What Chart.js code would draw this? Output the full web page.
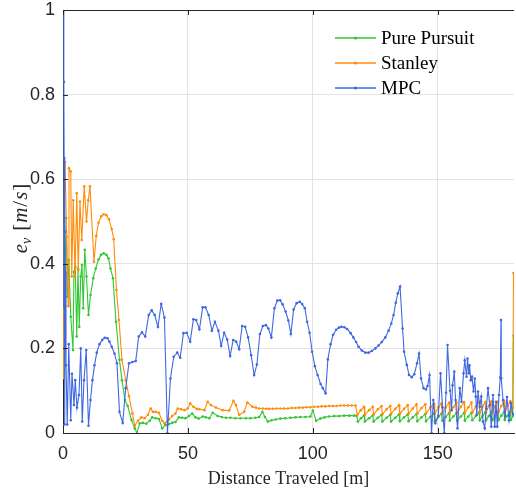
<!DOCTYPE html>
<html>
<head>
<meta charset="utf-8">
<script src="https://cdn.jsdelivr.net/npm/chart.js@4.4.1/dist/chart.umd.min.js"></script>
<style>
  html, body { margin: 0; padding: 0; background: #fff; }
  #wrap { width: 516px; height: 491px; }
</style>
</head>
<body>
<div id="wrap"><canvas id="velErrChart"></canvas></div>
<script>
// Velocity error vs distance for the three controllers
const xTicksStep = 50;
const yTicksStep = 0.2;

const ppDist = [0.2, 0.5, 1.3, 1.7, 2.3, 3.1, 4.0, 4.4, 4.9, 5.5, 6.0, 6.5, 7.1, 7.6, 8.1, 8.7, 9.4, 10.2, 11.0, 12.1,
  13.1, 14.2, 15.2, 16.3, 17.4, 18.2, 19.0, 20.0, 21.2, 22.6, 23.6, 24.8, 25.9, 27.4, 28.7, 29.6, 30.7, 32.0, 33.3, 34.7,
  35.7, 37.1, 38.4, 39.7, 41.0, 42.4, 43.7, 45.0, 46.4, 47.7, 49.0, 50.4, 51.7, 53.0, 54.3, 55.9, 57.2, 58.6, 59.9, 61.9,
  63.5, 65.2, 67.0, 69.0, 71.0, 73.2, 75.0, 77.0, 78.5, 79.8, 80.8, 82.0, 83.5, 85.1, 87.0, 89.0, 91.0, 93.1, 95.0, 97.0,
  99.0, 100.0, 101.3, 103.0, 104.7, 106.4, 108.5, 110.5, 112.5, 114.5, 116.5, 117.5,
  118.0, 119.3, 120.5, 120.8, 122.5, 124.0, 124.3, 126.0, 127.5, 127.8, 129.5, 131.0, 131.3, 133.0, 134.5, 134.8, 136.5, 138.0,
  138.3, 140.0, 141.5, 141.8, 143.5, 145.0, 145.3, 147.0, 148.5, 148.8, 150.2, 151.5, 151.8, 153.2, 154.5, 154.8, 156.2, 157.5,
  157.8, 159.2, 160.5, 160.8, 162.2, 163.5, 163.8, 165.2, 166.5, 166.8, 167.9, 169.0, 169.3, 170.4, 171.5, 171.8, 172.9, 174.0,
  174.3, 175.4, 176.5, 176.8, 177.9, 179.0, 179.3, 180.0, 180.3];
const ppErr = [0.14, 0.30, 0.508, 0.322, 0.409, 0.275, 0.196, 0.381, 0.393, 0.228, 0.389, 0.251, 0.37, 0.397, 0.295, 0.433, 0.37, 0.279, 0.326, 0.366,
  0.389, 0.41, 0.421, 0.425, 0.421, 0.413, 0.389, 0.366, 0.263, 0.173, 0.125, 0.078, 0.064, 0.031, 0.011, 0.0, 0.023, 0.024, 0.022, 0.029,
  0.037, 0.035, 0.033, 0.011, 0.019, 0.021, 0.024, 0.026, 0.037, 0.036, 0.035, 0.04, 0.046, 0.037, 0.034, 0.039, 0.037, 0.035, 0.048, 0.04,
  0.038, 0.036, 0.036, 0.035, 0.035, 0.035, 0.035, 0.036, 0.038, 0.05, 0.038, 0.027, 0.03, 0.032, 0.034, 0.035, 0.036, 0.037, 0.038, 0.038,
  0.039, 0.053, 0.029, 0.034, 0.037, 0.039, 0.04, 0.04, 0.041, 0.041, 0.041, 0.041,
  0.027, 0.035, 0.042, 0.027, 0.035, 0.042, 0.027, 0.036, 0.043, 0.027, 0.036, 0.043, 0.027, 0.036, 0.044, 0.028, 0.037, 0.044,
  0.028, 0.037, 0.045, 0.028, 0.037, 0.045, 0.028, 0.038, 0.046, 0.028, 0.038, 0.046, 0.029, 0.038, 0.047, 0.029, 0.039, 0.047,
  0.029, 0.039, 0.048, 0.029, 0.039, 0.048, 0.03, 0.04, 0.049, 0.03, 0.04, 0.049, 0.03, 0.04, 0.05, 0.03, 0.04, 0.05,
  0.03, 0.041, 0.05, 0.031, 0.041, 0.05, 0.031, 0.04, 0.23];

const stDist = [0.1, 0.3, 0.8, 1.5, 2.1, 2.4, 3.1, 3.5, 4.1, 4.8, 5.5, 6.1, 6.8, 7.5, 8.5, 9.4, 10.1, 10.8, 12.4, 13.3,
  14.2, 15.3, 16.3, 17.4, 18.4, 19.5, 20.3, 21.4, 22.4, 23.6, 25.1, 26.4, 27.8, 28.7, 30.0, 31.4, 32.7, 34.0, 35.1, 36.0,
  37.1, 38.4, 39.7, 40.6, 42.4, 43.7, 45.0, 45.9, 47.3, 48.6, 49.9, 50.9, 52.2, 53.5, 54.6, 56.6, 57.9, 59.2, 61.2, 63.9,
  66.5, 68.2, 69.2, 70.5, 72.5, 73.8, 75.8, 77.2, 78.5, 80.0, 81.3, 82.5, 84.0, 85.5, 87.0, 88.5, 90.0, 91.5, 93.0, 94.5,
  96.0, 97.5, 99.0, 100.5, 102.0, 103.5, 105.0, 106.5, 108.0, 109.5, 111.0, 112.5, 114.0, 115.5, 117.1,
  117.8, 119.2, 120.5, 120.8, 122.5, 124.0, 124.3, 126.0, 127.5, 127.8, 129.5, 131.0, 131.3, 133.0, 134.5, 134.8, 136.5, 138.0,
  138.3, 140.0, 141.5, 141.8, 143.5, 145.0, 145.3, 147.0, 148.5, 148.8, 150.2, 151.5, 151.8, 153.2, 154.5, 154.8, 156.2, 157.5,
  157.8, 159.2, 160.5, 160.8, 162.2, 163.5, 163.8, 165.2, 166.5, 166.8, 167.9, 169.0, 169.3, 170.4, 171.5, 171.8, 172.9, 174.0,
  174.3, 175.4, 176.5, 176.8, 177.9, 179.0, 179.3, 180.0, 180.3];
const stErr = [0.13, 0.47, 0.64, 0.464, 0.30, 0.626, 0.618, 0.37, 0.55, 0.37, 0.567, 0.385, 0.547, 0.456, 0.583, 0.5, 0.55, 0.583, 0.405, 0.466,
  0.497, 0.512, 0.517, 0.515, 0.505, 0.482, 0.458, 0.338, 0.267, 0.173, 0.125, 0.087, 0.046, 0.017, 0.029, 0.037, 0.035, 0.043, 0.058, 0.05,
  0.05, 0.048, 0.029, 0.023, 0.032, 0.04, 0.046, 0.058, 0.056, 0.054, 0.058, 0.07, 0.062, 0.057, 0.056, 0.054, 0.074, 0.066, 0.06, 0.054,
  0.053, 0.076, 0.066, 0.043, 0.05, 0.072, 0.062, 0.06, 0.058, 0.058, 0.0575, 0.0575, 0.0575, 0.058, 0.058, 0.058, 0.058, 0.059, 0.059, 0.06,
  0.06, 0.061, 0.061, 0.062, 0.062, 0.063, 0.063, 0.064, 0.064, 0.064, 0.065, 0.065, 0.065, 0.065, 0.065,
  0.043, 0.054, 0.062, 0.043, 0.054, 0.062, 0.044, 0.056, 0.064, 0.044, 0.056, 0.064, 0.045, 0.057, 0.066, 0.045, 0.057, 0.066,
  0.045, 0.058, 0.068, 0.046, 0.059, 0.068, 0.046, 0.06, 0.07, 0.046, 0.06, 0.07, 0.047, 0.061, 0.072, 0.047, 0.061, 0.072,
  0.047, 0.062, 0.073, 0.047, 0.061, 0.072, 0.048, 0.062, 0.074, 0.048, 0.062, 0.073, 0.048, 0.063, 0.075, 0.048, 0.063, 0.074,
  0.049, 0.064, 0.076, 0.049, 0.064, 0.075, 0.05, 0.06, 0.378];

const mpcDist = [0.2, 0.3, 0.35, 0.45, 0.6, 0.8, 0.95, 1.2, 1.7, 2.3, 3.1, 3.6, 4.4, 4.9, 5.6, 6.4, 7.1, 7.7, 8.4, 9.3,
  10.2, 11.0, 11.8, 12.6, 13.5, 14.6, 15.7, 16.7, 17.8, 18.6, 19.5, 20.6, 21.6, 22.6, 23.9, 25.1, 26.4, 27.8, 29.1, 30.3,
  31.6, 32.9, 34.3, 35.5, 36.7, 38.0, 39.3, 40.6, 41.8, 43.0, 44.3, 45.7, 46.9, 48.2, 49.5, 50.9, 52.2, 53.3, 54.6, 55.9,
  57.0, 58.3, 59.6, 60.8, 62.2, 63.3, 64.5, 65.7, 66.9, 68.1, 69.3, 70.5, 71.7, 72.9, 74.1, 75.3, 76.5, 77.6, 78.8, 80.0,
  81.2, 82.2, 83.4, 84.6, 85.8, 86.9, 87.9, 89.1, 90.2, 91.2, 92.3, 93.5, 94.7, 95.7, 96.8, 97.7, 98.7, 99.7, 100.8, 101.9,
  103.1, 104.0, 105.1, 106.0, 107.1, 108.1, 109.3, 110.4, 111.4, 112.6, 113.7, 115.1, 116.2, 117.3, 118.3, 119.6, 121.0, 122.3, 123.6, 125.0,
  126.3, 127.6, 129.0, 130.3, 131.4, 132.3, 133.2, 134.0, 134.9, 135.9, 136.5, 137.6, 138.5, 139.6, 140.6, 141.7, 142.5, 143.3, 144.3, 145.3,
  145.9, 146.7, 147.5, 148.2, 149.0, 150.2, 151.1, 151.9, 152.6, 153.3, 153.9, 154.9, 155.5, 155.9, 156.6, 157.1, 157.9, 158.8, 159.5, 160.3,
  160.8, 161.5, 161.9, 162.4, 162.7, 163.2, 163.7, 164.3, 164.8, 165.2, 165.6, 166.1, 166.8, 167.4, 168.1, 168.8, 169.4, 170.1, 170.8, 171.4,
  172.1, 172.8, 173.3, 173.8, 174.5, 175.0, 175.3, 175.4, 176.1, 176.9, 177.7, 178.5, 179.3, 180.0];
const mpcErr = [0.3, 1.0, 0.83, 0.65, 0.02, 0.476, 0.38, 0.16, 0.02, 0.21, 0.03, 0.14, 0.066, 0.125, 0.06, 0.09, 0.20, 0.027, 0.125, 0.196,
  0.017, 0.078, 0.125, 0.16, 0.19, 0.21, 0.22, 0.225, 0.224, 0.216, 0.204, 0.188, 0.165, 0.05, 0.024, 0.106, 0.165, 0.168, 0.17, 0.228,
  0.238, 0.228, 0.279, 0.29, 0.279, 0.251, 0.305, 0.273, 0.0, 0.129, 0.18, 0.19, 0.178, 0.236, 0.237, 0.216, 0.269, 0.267, 0.245, 0.297,
  0.297, 0.279, 0.242, 0.263, 0.242, 0.206, 0.237, 0.221, 0.182, 0.22, 0.216, 0.198, 0.253, 0.251, 0.226, 0.184, 0.137, 0.162, 0.234, 0.253,
  0.255, 0.247, 0.226, 0.295, 0.313, 0.314, 0.304, 0.287, 0.266, 0.234, 0.292, 0.307, 0.31, 0.305, 0.295, 0.263, 0.237, 0.192, 0.158, 0.137,
  0.116, 0.106, 0.094, 0.174, 0.21, 0.232, 0.244, 0.249, 0.251, 0.25, 0.246, 0.236, 0.226, 0.215, 0.204, 0.195, 0.19, 0.19, 0.194, 0.2,
  0.207, 0.215, 0.226, 0.242, 0.259, 0.279, 0.308, 0.33, 0.346, 0.247, 0.192, 0.161, 0.137, 0.132, 0.139, 0.165, 0.188, 0.129, 0.106, 0.103,
  0.111, 0.137, 0.0, 0.078, 0.023, 0.04, 0.141, 0.06, 0.0, 0.095, 0.208, 0.10, 0.054, 0.113, 0.145, 0.078, 0.011, 0.106, 0.074, 0.141,
  0.172, 0.133, 0.176, 0.141, 0.16, 0.125, 0.133, 0.098, 0.129, 0.086, 0.043, 0.098, 0.062, 0.086, 0.027, 0.011, 0.058, 0.106, 0.066, 0.015,
  0.09, 0.015, 0.074, 0.015, 0.09, 0.131, 0.267, 0.129, 0.078, 0.04, 0.085, 0.03, 0.07, 0.045];

const seriesNames = ['Pure Pursuit', 'Stanley', 'MPC'];
const seriesColors = ['#33c633', '#ff8c0a', '#3f68e0'];

function toPoints(xs, ys) {
  return xs.map((x, i) => ({ x: x, y: ys[i] }));
}

function lineSet(idx, xs, ys, order) {
  return {
    label: seriesNames[idx],
    data: toPoints(xs, ys),
    showLine: true,
    borderColor: seriesColors[idx],
    backgroundColor: seriesColors[idx],
    borderWidth: 1.1,
    pointRadius: 1.3,
    pointBorderWidth: 0,
    pointHoverRadius: 2,
    order: order
  };
}

const axisColor = '#262626';

// frame, inward tick marks, y title with subscript and legend
const decorPlugin = {
  id: 'decor',
  afterDraw(chart) {
    const ctx = chart.ctx;
    const area = chart.chartArea;
    const xs = chart.scales.x;
    const ys = chart.scales.y;
    ctx.save();
    ctx.strokeStyle = axisColor;
    ctx.lineWidth = 1;
    ctx.beginPath();
    ctx.moveTo(area.left, area.top + 0.5);
    ctx.lineTo(area.right, area.top + 0.5);
    xs.ticks.forEach(t => {
      const px = Math.round(xs.getPixelForValue(t.value)) + 0.5;
      ctx.moveTo(px, area.bottom);
      ctx.lineTo(px, area.bottom - 5);
      ctx.moveTo(px, area.top);
      ctx.lineTo(px, area.top + 5);
    });
    ys.ticks.forEach(t => {
      const py = Math.round(ys.getPixelForValue(t.value)) + 0.5;
      ctx.moveTo(area.left, py);
      ctx.lineTo(area.left + 5, py);
    });
    ctx.stroke();

    // y axis title: e_v [m/s]
    ctx.translate(20, (area.top + area.bottom) / 2 - 3);
    ctx.rotate(-Math.PI / 2);
    const pieces = [
      { t: 'e', f: 'italic 21px "Liberation Serif"', dy: 0, gap: 0 },
      { t: 'v', f: 'italic 14px "Liberation Serif"', dy: 4, gap: 7 },
      { t: '[', f: '21px "Liberation Serif"', dy: 0, gap: 1 },
      { t: 'm', f: 'italic 21px "Liberation Serif"', dy: 0, gap: 1 },
      { t: '/', f: '21px "Liberation Serif"', dy: 0, gap: 1 },
      { t: 's', f: 'italic 21px "Liberation Serif"', dy: 0, gap: 1 },
      { t: ']', f: '21px "Liberation Serif"', dy: 0, gap: 0 }
    ];
    let total = 0;
    pieces.forEach(p => { ctx.font = p.f; p.w = ctx.measureText(p.t).width; total += p.w + p.gap; });
    let cx = -total / 2;
    ctx.fillStyle = axisColor;
    ctx.textAlign = 'left';
    ctx.textBaseline = 'alphabetic';
    pieces.forEach(p => {
      ctx.font = p.f;
      ctx.fillText(p.t, cx, 7 + p.dy);
      cx += p.w + p.gap;
    });
    ctx.restore();

    // legend
    ctx.save();
    ctx.font = '19px "Liberation Serif"';
    ctx.textBaseline = 'middle';
    ctx.textAlign = 'left';
    seriesNames.forEach((name, i) => {
      const y = 38 + i * 25;
      ctx.strokeStyle = seriesColors[i];
      ctx.lineWidth = 1.3;
      ctx.beginPath();
      ctx.moveTo(335, y);
      ctx.lineTo(376, y);
      ctx.stroke();
      ctx.fillStyle = seriesColors[i];
      ctx.beginPath();
      ctx.arc(355.5, y, 1.6, 0, Math.PI * 2);
      ctx.fill();
      ctx.fillStyle = '#000';
      ctx.fillText(name, 381, y + 1);
    });
    ctx.restore();
  }
};

const tickFont = { family: '"Liberation Sans", Arial, sans-serif', size: 18 };

const velCtx = document.getElementById('velErrChart').getContext('2d');
const velChart = new Chart(velCtx, {
  type: 'scatter',
  data: {
    datasets: [
      lineSet(0, ppDist, ppErr, 2),
      lineSet(1, stDist, stErr, 1),
      lineSet(2, mpcDist, mpcErr, 0)
    ]
  },
  options: {
    responsive: true,
    maintainAspectRatio: false,
    animation: false,
    layout: { padding: { top: 10, right: 0, left: 0, bottom: 0 } },
    plugins: {
      legend: { display: false },
      tooltip: { enabled: false }
    },
    scales: {
      x: {
        type: 'linear',
        min: 0,
        max: 180.5,
        ticks: { stepSize: xTicksStep, includeBounds: false, font: tickFont, color: axisColor, padding: 10, maxRotation: 0 },
        grid: { color: '#e3e3e3', lineWidth: 1, drawTicks: false },
        border: { color: axisColor, width: 1 },
        title: {
          display: true,
          text: 'Distance Traveled [m]',
          font: { family: '"Liberation Serif", serif', size: 18 },
          color: axisColor,
          padding: { top: 0, bottom: 1 }
        },
        afterFit(scale) {
          scale.height = 58;
          scale.paddingLeft = 0;
          scale.paddingRight = 0;
        }
      },
      y: {
        type: 'linear',
        min: 0,
        max: 1,
        ticks: {
          stepSize: yTicksStep,
          font: tickFont,
          color: axisColor,
          padding: 8,
          callback: v => String(Number(v.toFixed(1)))
        },
        grid: { color: '#e3e3e3', lineWidth: 1, drawTicks: false },
        border: { color: axisColor, width: 1 },
        afterFit(scale) {
          scale.width = 63;
          scale.paddingTop = 0;
          scale.paddingBottom = 0;
        }
      }
    }
  },
  plugins: [decorPlugin]
});
</script>
</body>
</html>
